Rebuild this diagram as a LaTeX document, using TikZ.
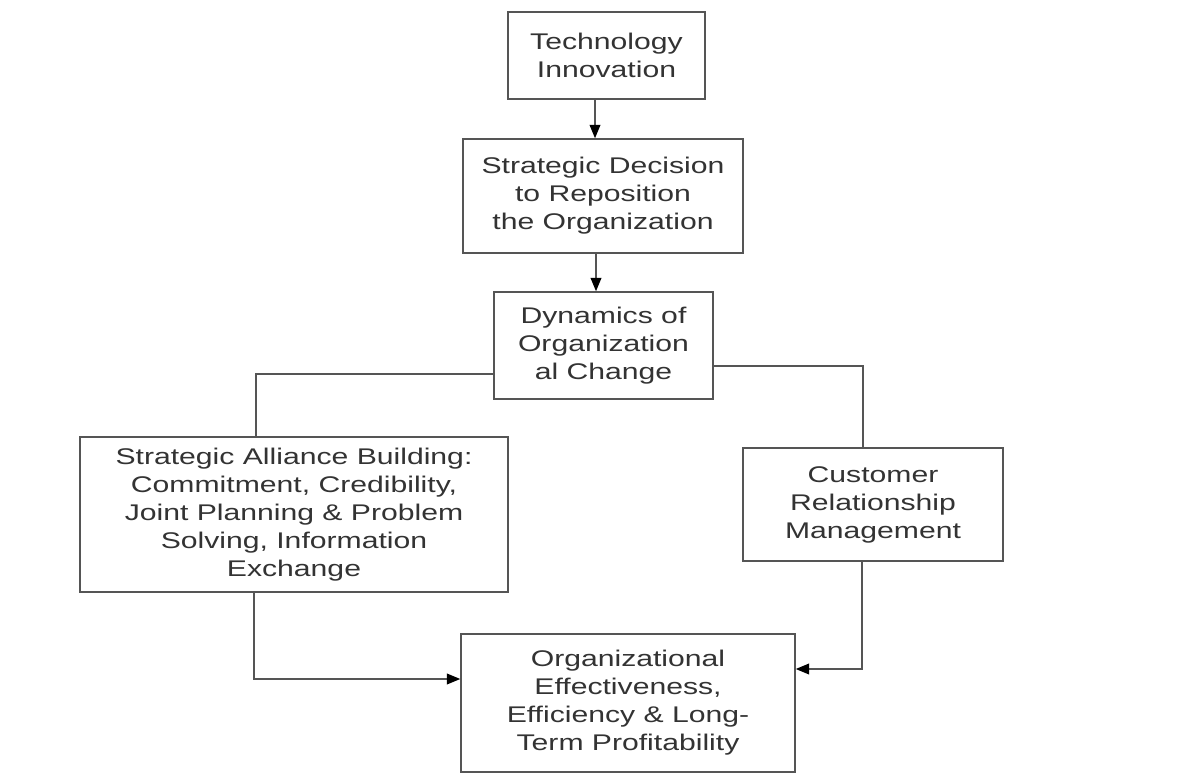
\documentclass[tikz,border=0pt]{standalone}
\usepackage{fontspec}
\setmainfont{Liberation Sans}[FakeStretch=1.33]
\usetikzlibrary{arrows.meta}
\definecolor{edge}{HTML}{555555}
\definecolor{ink}{HTML}{333333}
\begin{document}
\begin{tikzpicture}[x=0.75pt,y=-0.75pt,
  box/.style={draw=edge, line width=1.1pt, rectangle, align=center,
    text=ink, inner sep=0pt,
    font=\fontsize{17}{21}\selectfont},
  link/.style={draw=edge, line width=1.1pt},
  flow/.style={link, -{Triangle[length=10pt,width=8pt,color=black]}}]
\useasboundingbox (0,0) rectangle (1181,773);
\fill[white] (0,0) rectangle (1181,773);

% boxes (centre, size in px at 0.75pt each)
\node[box, minimum width=147.75pt, minimum height=65.25pt] (tech) at (606.5,55.5)
  {Technology\\Innovation};
\node[box, minimum width=210pt, minimum height=85.5pt] (decide) at (603,196)
  {Strategic Decision\\to Reposition\\the Organization};
\node[box, minimum width=164.25pt, minimum height=80.25pt] (dyn) at (603.5,345.5)
  {Dynamics of\\Organization\\al Change};
\node[box, minimum width=321pt, minimum height=116.25pt] (alliance) at (294,514.5)
  {Strategic Alliance Building:\\Commitment, Credibility,\\Joint Planning \& Problem\\Solving, Information\\Exchange};
\node[box, minimum width=195pt, minimum height=84.75pt] (crm) at (873,504.5)
  {Customer\\Relationship\\Management};
\node[box, minimum width=250.5pt, minimum height=103.5pt] (eff) at (628,703)
  {Organizational\\Effectiveness,\\Efficiency \& Long-\\Term Profitability};

% bend points of the connectors
\coordinate (a1) at (595,0);
\coordinate (a2) at (596,0);
\coordinate (kl) at (256,374);
\coordinate (kr) at (863,366);
\coordinate (bl) at (254,679);
\coordinate (br) at (862,669);

\draw[flow] (tech.south -| a1) -- (decide.north -| a1);
\draw[flow] (decide.south -| a2) -- (dyn.north -| a2);
\draw[link] (kl -| dyn.west) -- (kl) -- (kl |- alliance.north);
\draw[link] (kr -| dyn.east) -- (kr) -- (kr |- crm.north);
\draw[flow] (bl |- alliance.south) -- (bl) -- (bl -| eff.west);
\draw[flow] (br |- crm.south) -- (br) -- (br -| eff.east);
\end{tikzpicture}
\end{document}
